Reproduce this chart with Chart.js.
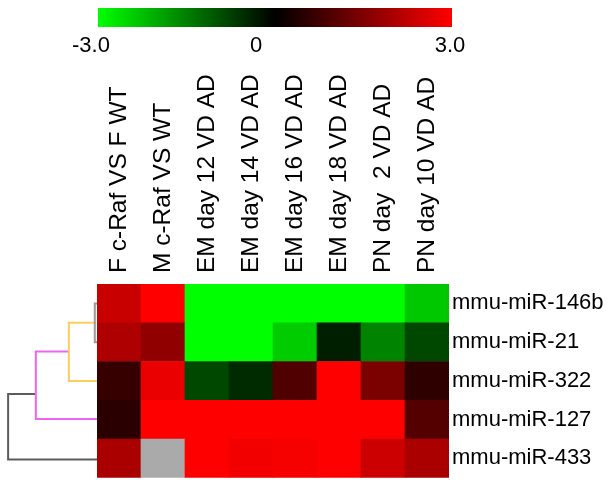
<!DOCTYPE html>
<html>
<head>
<meta charset="utf-8">
<script src="https://cdn.jsdelivr.net/npm/chart.js@4.4.1/dist/chart.umd.min.js"></script>
<style>
  body { margin: 0; background: #fff; font-family: 'Liberation Sans', Arial, sans-serif; }
  #wrap { position: relative; width: 609px; height: 494px; }
  #bar { position: absolute; left: 98px; top: 8px; width: 354px; height: 19px;
         background: linear-gradient(to right, #00ff00, #000000, #ff0000); }
  .lbl { position: absolute; top: 32px; font-size: 22px; color: #000; transform: translateX(-50%); }
</style>
</head>
<body>
<div id="wrap">
  <canvas id="chart" width="609" height="494"></canvas>
  <div id="bar"></div>
  <div class="lbl" style="left:91px">-3.0</div>
  <div class="lbl" style="left:256px">0</div>
  <div class="lbl" style="left:450px">3.0</div>
</div>
<script>
// conditions (columns)
const columns = ['F c-Raf VS F WT', 'M c-Raf VS WT', 'EM day 12 VD AD', 'EM day 14 VD AD',
  'EM day 16 VD AD', 'EM day 18 VD AD', 'PN day  2 VD AD', 'PN day 10 VD AD'];
// miRNAs, top to bottom
const rows = ['mmu-miR-146b', 'mmu-miR-21', 'mmu-miR-322', 'mmu-miR-127', 'mmu-miR-433'];

// log ratios (null = missing, grey)
const miR146b = [2.35, 3.0, -3.0, -3.0, -3.0, -3.0, -3.0, -2.35];
const miR21   = [2.05, 1.7, -3.0, -3.0, -2.4, -0.35, -1.55, -0.85];
const miR322  = [0.65, 2.75, -0.85, -0.5, 0.95, 3.0, 1.45, 0.55];
const miR127  = [0.5, 3.0, 3.0, 3.0, 3.0, 3.0, 3.0, 1.0];
const miR433  = [2.0, null, 3.0, 2.85, 2.9, 3.0, 2.4, 2.0];

// dendrogram links (x = merge height, y = row position, 0.5 = bottom row centre)
const linkLeaf    = [{x: 0, y: 4.5}, {x: -0.05, y: 4.5}, {x: -0.05, y: 3.5}, {x: 0, y: 3.5}];
const linkYellow  = [{x: -0.03, y: 4.0}, {x: -0.64, y: 4.0}, {x: -0.64, y: 2.5}, {x: 0, y: 2.5}];
const linkMagenta = [{x: -0.64, y: 3.26}, {x: -1.39, y: 3.26}, {x: -1.39, y: 1.52}, {x: 0, y: 1.52}];
const linkGrey    = [{x: -1.39, y: 2.16}, {x: -2.02, y: 2.16}, {x: -2.02, y: 0.47}, {x: 0, y: 0.47}];

function heatColor(v) {
  if (v === null) return '#aaaaaa';
  const t = Math.min(1, Math.abs(v) / 3);
  const c = Math.round(255 * t);
  return v >= 0 ? `rgb(${c},0,0)` : `rgb(0,${c},0)`;
}

function cellRow(label, vals) {
  return {
    type: 'bar',
    label: label,
    data: vals.map(() => 1),
    backgroundColor: vals.map(heatColor),
    borderColor: vals.map(heatColor),
    borderWidth: 0,
    barPercentage: 1,
    categoryPercentage: 1,
    grouped: false,
    stack: 'heat',
    xAxisID: 'x',
    yAxisID: 'y'
  };
}

function link(pts, color, w) {
  return {
    type: 'line',
    data: pts,
    borderColor: color,
    borderWidth: w,
    pointRadius: 0,
    tension: 0,
    fill: false,
    clip: false,
    xAxisID: 'xd',
    yAxisID: 'yd'
  };
}

const fontFamily = "'Liberation Sans', Arial, sans-serif";

new Chart(document.getElementById('chart').getContext('2d'), {
  type: 'bar',
  data: {
    labels: columns,
    datasets: [
      cellRow(rows[4], miR433),
      cellRow(rows[3], miR127),
      cellRow(rows[2], miR322),
      cellRow(rows[1], miR21),
      cellRow(rows[0], miR146b),
      link(linkLeaf, '#9a9a9a', 2),
      link(linkYellow, '#fccf5c', 2),
      link(linkMagenta, '#ee66ee', 2),
      link(linkGrey, '#5c5c5c', 2)
    ]
  },
  options: {
    responsive: false,
    devicePixelRatio: 1,
    animation: false,
    layout: { padding: { left: 97, bottom: 9, top: 0, right: 0 } },
    plugins: { legend: { display: false }, tooltip: { enabled: false } },
    scales: {
      x: {
        type: 'category',
        position: 'top',
        stacked: true,
        offset: true,
        grid: { display: false, drawTicks: false },
        border: { display: false },
        ticks: {
          autoSkip: false,
          minRotation: 90,
          maxRotation: 90,
          padding: 11,
          labelOffset: 30,
          color: '#000',
          font: { family: fontFamily, size: 24.5 }
        },
        afterFit: s => { s.height = 284; }
      },
      y: {
        stacked: true,
        min: 0,
        max: 5,
        display: false
      },
      y2: {
        type: 'category',
        labels: rows,
        position: 'right',
        offset: true,
        grid: { display: false, drawTicks: false },
        border: { display: false },
        ticks: { padding: 3, color: '#000', font: { family: fontFamily, size: 22 } },
        afterFit: s => { s.width = 160; }
      },
      xd: { type: 'linear', min: 0, max: 8, offset: false, display: false },
      yd: { type: 'linear', min: 0, max: 5, offset: false, display: false }
    }
  }
});
</script>
</body>
</html>
